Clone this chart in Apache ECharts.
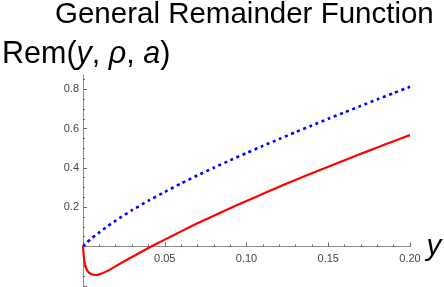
<!DOCTYPE html>
<html>
<head>
<meta charset="utf-8">
<script src="https://cdn.jsdelivr.net/npm/echarts@6/dist/echarts.min.js"></script>
<style>html,body{margin:0;padding:0;background:#fff}#c{width:444px;height:287px}</style>
</head>
<body>
<div id="c"></div>
<script>
// ---- data ----
const blueX = [0, 0.0025, 0.005, 0.0075, 0.01, 0.015, 0.02, 0.03, 0.04, 0.05, 0.06, 0.07, 0.08, 0.09, 0.10, 0.11, 0.12, 0.13, 0.14, 0.15, 0.16, 0.17, 0.18, 0.19, 0.20];
const blueVals = [0, 0.022, 0.04, 0.056, 0.072, 0.103, 0.132, 0.185, 0.233, 0.278, 0.321, 0.362, 0.401, 0.439, 0.476, 0.512, 0.547, 0.582, 0.616, 0.65, 0.683, 0.716, 0.749, 0.781, 0.813];
const redX = [0, 0.0005, 0.001, 0.002, 0.003, 0.005, 0.0075, 0.01, 0.015, 0.02, 0.03, 0.04, 0.05, 0.06, 0.07, 0.08, 0.09, 0.10, 0.11, 0.12, 0.13, 0.14, 0.15, 0.16, 0.17, 0.18, 0.19, 0.20];
const redVals = [0, -0.05, -0.083, -0.112, -0.127, -0.14, -0.145, -0.142, -0.124, -0.1, -0.053, -0.008, 0.035, 0.077, 0.118, 0.157, 0.195, 0.232, 0.268, 0.304, 0.339, 0.373, 0.406, 0.439, 0.472, 0.504, 0.536, 0.567];
const xTickLabels = [0.05, 0.10, 0.15, 0.20];
const yMajorTicks = [-0.2, 0, 0.2, 0.4, 0.6, 0.8];
const yTickLabels = [0.2, 0.4, 0.6, 0.8];
const yMinorTicks = [-0.15, -0.1, -0.05, 0.05, 0.1, 0.15, 0.25, 0.3, 0.35, 0.45, 0.5, 0.55, 0.65, 0.7, 0.75, 0.85];
const titleText = 'General Remainder Function';
const xName = 'y';

const zip = (xs, ys) => xs.map((x, i) => [x, ys[i]]);
const FONT = '"Liberation Sans", Arial, Helvetica, sans-serif';

const Y_MIN = -0.2, Y_MAX = 0.873;
const GRID = {left: 83, right: 34, top: 75, bottom: 1.2};
const gridH = 287 - GRID.top - GRID.bottom;
// move the x axis up from the grid bottom to the y = 0 level
const xOffset = -((0 - Y_MIN) / (Y_MAX - Y_MIN)) * gridH;

const chart = echarts.init(document.getElementById('c'), null, {renderer: 'canvas'});
chart.setOption({
  animation: false,
  backgroundColor: '#ffffff',
  title: [
    {
      text: titleText, left: 55, top: 0, padding: 0,
      textStyle: {fontFamily: FONT, fontSize: 29.5, fontWeight: 'normal', color: '#000'}
    },
    {
      text: '{n|Rem(}{i|y}{n|, }{i|ρ}{n|, }{i|a}{n|)}', left: 2, top: 39, padding: 0,
      textStyle: {
        fontFamily: FONT, fontSize: 30.5, fontWeight: 'normal', color: '#000',
        rich: {
          n: {fontFamily: FONT, fontSize: 30.5, color: '#000'},
          i: {fontFamily: FONT, fontSize: 30.5, fontStyle: 'italic', color: '#000'}
        }
      }
    }
  ],
  grid: Object.assign({containLabel: false, outerBoundsMode: 'none'}, GRID),
  xAxis: {
    type: 'value', min: 0, max: 0.2, interval: 0.05,
    position: 'bottom', offset: xOffset,
    name: xName, nameLocation: 'end', nameGap: 14,
    nameTextStyle: {fontFamily: FONT, fontSize: 29.5, fontStyle: 'italic', color: '#000', verticalAlign: 'middle', padding: [10, 0, 0, 0]},
    axisLine: {onZero: false, lineStyle: {color: '#8c8c8c', width: 1}},
    axisTick: {inside: true, length: 4, lineStyle: {color: '#666'}},
    minorTick: {show: true, splitNumber: 5, length: 2, lineStyle: {color: '#666'}},
    axisLabel: {
      show: true, hideOverlap: false,
      customValues: xTickLabels,
      margin: 7, fontFamily: FONT, fontSize: 11, color: '#444',
      formatter: v => v.toFixed(2)
    },
    splitLine: {show: false}
  },
  yAxis: [
    {
      type: 'value', min: Y_MIN, max: Y_MAX,
      axisLine: {show: true, onZero: false, lineStyle: {color: '#8c8c8c', width: 1}},
      axisTick: {show: true, inside: true, length: 4, customValues: yMajorTicks, lineStyle: {color: '#666'}},
      axisLabel: {
        show: true, margin: 4, fontFamily: FONT, fontSize: 11, color: '#444',
        customValues: yTickLabels, formatter: v => v.toFixed(1)
      },
      minorTick: {show: false},
      splitLine: {show: false}
    },
    {
      type: 'value', min: Y_MIN, max: Y_MAX, position: 'left',
      axisLine: {show: false},
      axisTick: {show: true, inside: true, length: 2, customValues: yMinorTicks, lineStyle: {color: '#666'}},
      axisLabel: {show: false},
      splitLine: {show: false}
    }
  ],
  series: [
    {
      type: 'line', name: 'blue', data: zip(blueX, blueVals), yAxisIndex: 0,
      showSymbol: false, smooth: 0.2,
      lineStyle: {color: '#0000ff', width: 2.6, type: [3, 3.6], cap: 'butt'}
    },
    {
      type: 'line', name: 'red', data: zip(redX, redVals), yAxisIndex: 0,
      showSymbol: false, smooth: 0.2,
      lineStyle: {color: '#ff0000', width: 2.2}
    }
  ]
});
</script>
</body>
</html>
